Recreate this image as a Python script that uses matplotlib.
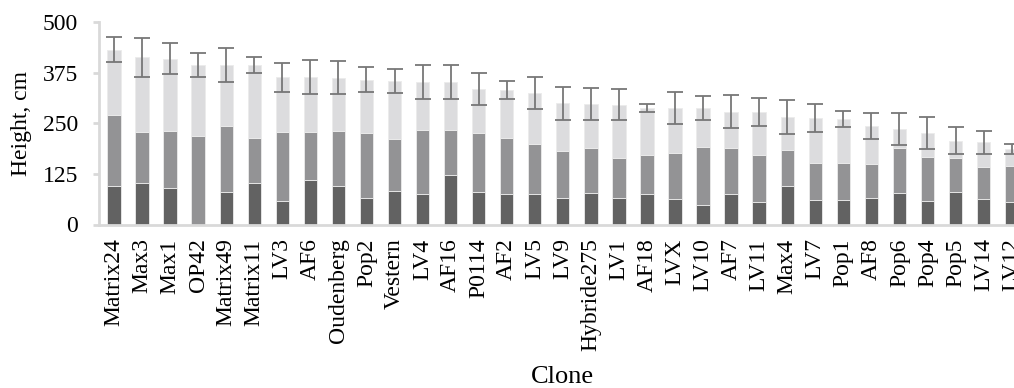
import matplotlib
matplotlib.use("Agg")
import matplotlib.pyplot as plt
import numpy as np

clones = ["Matrix24", "Max3", "Max1", "OP42", "Matrix49", "Matrix11", "LV3", "AF6",
          "Oudenberg", "Pop2", "Vestern", "LV4", "AF16", "P0114", "AF2", "LV5", "LV9",
          "Hybride275", "LV1", "AF18", "LVX", "LV10", "AF7", "LV11", "Max4", "LV7",
          "Pop1", "AF8", "Pop6", "Pop4", "Pop5", "LV14", "LV12"]

# height gained per period (cm), stacked bottom to top
period1 = [96, 102, 90, 0, 80, 102, 57, 109, 96, 65, 82, 75, 121, 80, 75, 75, 66,
           77, 66, 76, 63, 47, 75, 56, 95, 61, 60, 65, 79, 58, 80, 63, 55]
period2 = [174, 126, 141, 219, 163, 111, 171, 119, 134, 162, 128, 159, 113, 145, 139, 123, 116,
           113, 99, 96, 113, 145, 113, 116, 90, 92, 91, 84, 110, 108, 84, 79, 89]
period3 = [162, 185, 178, 175, 151, 181, 136, 136, 132, 131, 144, 119, 118, 110, 119, 126, 117,
           107, 131, 116, 111, 95, 91, 106, 81, 110, 109, 94, 47, 60, 43, 61, 42]
# standard deviation of total height (cm)
total_sd = [31, 48, 38, 30, 41, 19, 36, 43, 41, 30, 29, 42, 42, 40, 22, 39, 40,
            39, 39, 9, 40, 30, 41, 35, 42, 35, 20, 33, 40, 40, 34, 29, 12]

y_ticks = [0, 125, 250, 375, 500]

plt.rcParams["font.family"] = ["Liberation Serif", "DejaVu Serif"]

W, H = 1014, 388
fig = plt.figure(figsize=(W / 100, H / 100), dpi=100)
slot = 28.05
n = len(clones)
left_px = 99
width_px = slot * (n + 0.07)
ax = fig.add_axes([left_px / W, (H - 224.5) / H, width_px / W, (224.5 - 22) / H])

x = np.arange(n)
p1 = np.array(period1)
p2 = np.array(period2)
p3 = np.array(period3)
bw = 0.475
edge = dict(edgecolor="#ebebeb", linewidth=0.6)
ax.bar(x, p1, bw, color="#626262", **edge)
ax.bar(x, p2, bw, bottom=p1, color="#939395", **edge)
ax.bar(x, p3, bw, bottom=p1 + p2, color="#dcdcde", yerr=total_sd,
       error_kw=dict(ecolor="#777777", elinewidth=1.3, capsize=6, capthick=1.3), **edge)

ax.set_xlim(-0.535, n - 0.465)
ax.set_ylim(0, 500)
ax.set_yticks(y_ticks)
ax.set_xticks(x)
ax.set_xticklabels(clones, rotation=90, fontsize=17)
ax.tick_params(axis="y", labelsize=17, length=4, width=2, color="#d9d9d9", pad=11)
ax.tick_params(axis="x", length=0, pad=10)

for s in ("top", "right"):
    ax.spines[s].set_visible(False)
for s in ("left", "bottom"):
    ax.spines[s].set_color("#d9d9d9")
    ax.spines[s].set_linewidth(2)

ax.set_ylabel("Height, cm", fontsize=17, labelpad=8)
fig.text(562 / W, 1 - 377 / H, "Clone", fontsize=19, ha="center", va="center")

fig.savefig("out.png", dpi=100)
